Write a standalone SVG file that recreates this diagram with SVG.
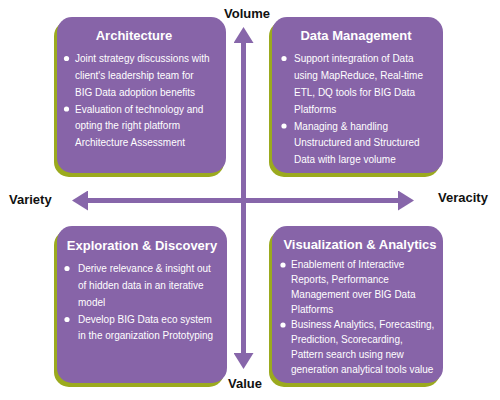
<svg xmlns="http://www.w3.org/2000/svg" width="500" height="400" viewBox="0 0 500 400">
<defs>
<style>
.shadow{fill:#9BAA1E}
.box{fill:#8764A8}
.title{font-family:"Liberation Sans",Arial,sans-serif;font-size:13px;font-weight:bold;fill:#fff;text-anchor:middle}
.body{font-family:"Liberation Sans",Arial,sans-serif;font-size:10px;fill:#fff}
.dot{fill:#fff}
.axis{stroke:#8766AA;stroke-width:5;fill:none}
.lbl{font-family:"Liberation Sans",Arial,sans-serif;font-size:13px;font-weight:bold;fill:#111}
</style>
<marker id="ah" markerUnits="userSpaceOnUse" markerWidth="16" markerHeight="20" viewBox="0 0 16 20" refX="1" refY="10" orient="auto-start-reverse">
<path d="M0,0 L16,10 L0,20 Z" fill="#8766AA"/>
</marker>
</defs>
<rect width="500" height="400" fill="#fff"/>

<g id="connectors">
<line class="axis" x1="243.5" y1="42" x2="243.5" y2="354" marker-start="url(#ah)" marker-end="url(#ah)"/>
<line class="axis" x1="87" y1="200.5" x2="399" y2="200.5" marker-start="url(#ah)" marker-end="url(#ah)"/>
</g>

<g id="axis-labels">
<text class="lbl" x="247" y="18" text-anchor="middle">Volume</text>
<text class="lbl" x="245" y="388" text-anchor="middle">Value</text>
<text class="lbl" x="9" y="204">Variety</text>
<text class="lbl" x="438" y="202">Veracity</text>
</g>

<g id="architecture">
<rect class="shadow" x="54" y="21" width="170" height="156" rx="15"/>
<rect class="box" x="57" y="17" width="169" height="156" rx="15"/>
<text class="title" x="134" y="40">Architecture</text>
<circle class="dot" cx="66.5" cy="58.5" r="2.6"/>
<text class="body" x="75" y="62">Joint strategy discussions with</text>
<text class="body" x="75" y="79">client's leadership team for</text>
<text class="body" x="75" y="96">BIG Data adoption benefits</text>
<circle class="dot" cx="66.5" cy="109" r="2.6"/>
<text class="body" x="75" y="112.5">Evaluation of technology and</text>
<text class="body" x="75" y="129">opting the right platform</text>
<text class="body" x="75" y="146">Architecture Assessment</text>
</g>

<g id="data-management">
<rect class="shadow" x="269" y="21" width="171" height="156" rx="15"/>
<rect class="box" x="272" y="17" width="171" height="156" rx="15"/>
<text class="title" x="356" y="39.5">Data Management</text>
<circle class="dot" cx="284" cy="58.5" r="2.6"/>
<text class="body" x="294" y="62">Support integration of Data</text>
<text class="body" x="294" y="79">using MapReduce, Real-time</text>
<text class="body" x="294" y="96">ETL, DQ tools for BIG Data</text>
<text class="body" x="294" y="112.5">Platforms</text>
<circle class="dot" cx="284" cy="126" r="2.6"/>
<text class="body" x="294" y="129.5">Managing &amp; handling</text>
<text class="body" x="294" y="146">Unstructured and Structured</text>
<text class="body" x="294" y="163">Data with large volume</text>
</g>

<g id="exploration-discovery">
<rect class="shadow" x="54" y="230" width="170" height="157" rx="15"/>
<rect class="box" x="57" y="226" width="170" height="157" rx="15"/>
<text class="title" x="142" y="250">Exploration &amp; Discovery</text>
<circle class="dot" cx="67" cy="268.5" r="2.6"/>
<text class="body" x="78" y="272">Derive relevance &amp; insight out</text>
<text class="body" x="78" y="289">of hidden data in an iterative</text>
<text class="body" x="78" y="306">model</text>
<circle class="dot" cx="67" cy="319.5" r="2.6"/>
<text class="body" x="78" y="322.5">Develop BIG Data eco system</text>
<text class="body" x="78" y="339">in the organization Prototyping</text>
</g>

<g id="visualization-analytics">
<rect class="shadow" x="269" y="230" width="171" height="157" rx="15"/>
<rect class="box" x="272" y="226" width="171" height="157" rx="15"/>
<text class="title" x="360" y="249">Visualization &amp; Analytics</text>
<circle class="dot" cx="283" cy="265" r="2.6"/>
<text class="body" x="291" y="267.5">Enablement of Interactive</text>
<text class="body" x="291" y="282.5">Reports, Performance</text>
<text class="body" x="291" y="297.5">Management over BIG Data</text>
<text class="body" x="291" y="312.5">Platforms</text>
<circle class="dot" cx="283" cy="325" r="2.6"/>
<text class="body" x="291" y="327.5">Business Analytics, Forecasting,</text>
<text class="body" x="291" y="342.5">Prediction, Scorecarding,</text>
<text class="body" x="291" y="357.5">Pattern search using new</text>
<text class="body" x="291" y="372.5">generation analytical tools value</text>
</g>
</svg>
